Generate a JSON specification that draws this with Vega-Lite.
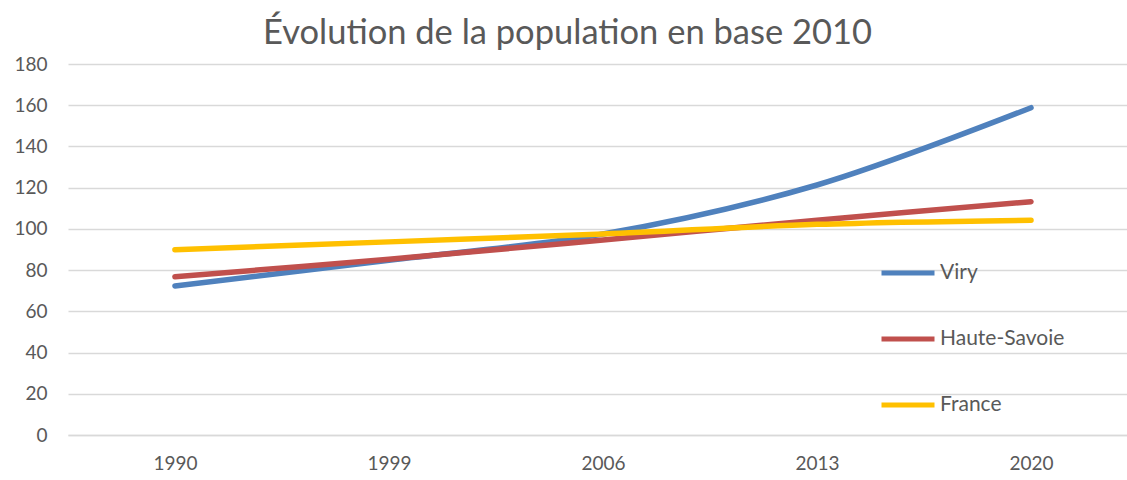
{
  "$schema": "https://vega.github.io/schema/vega-lite/v6.json",
  "autosize": {"type": "none"},
  "padding": {"left": 68, "top": 64, "right": 0, "bottom": 45},
  "width": 1059,
  "height": 371,
  "background": "white",
  "config": {
    "font": "Lato",
    "view": {"stroke": null}
  },
  "title": {
    "text": "Évolution de la population en base 2010",
    "fontSize": 34.5,
    "fontWeight": "normal",
    "color": "#595959",
    "anchor": "middle",
    "dx": -30,
    "offset": 4
  },
  "data": {
    "values": [
      {"annee": "1990", "serie": "Viry", "valeur": 72.3},
      {"annee": "1999", "serie": "Viry", "valeur": 84.8},
      {"annee": "2006", "serie": "Viry", "valeur": 97.5},
      {"annee": "2013", "serie": "Viry", "valeur": 121.3},
      {"annee": "2020", "serie": "Viry", "valeur": 158.8},
      {"annee": "1990", "serie": "Haute-Savoie", "valeur": 76.8},
      {"annee": "1999", "serie": "Haute-Savoie", "valeur": 85.3},
      {"annee": "2006", "serie": "Haute-Savoie", "valeur": 94.6},
      {"annee": "2013", "serie": "Haute-Savoie", "valeur": 104.2},
      {"annee": "2020", "serie": "Haute-Savoie", "valeur": 113.2},
      {"annee": "1990", "serie": "France", "valeur": 89.9},
      {"annee": "1999", "serie": "France", "valeur": 93.7},
      {"annee": "2006", "serie": "France", "valeur": 97.5},
      {"annee": "2013", "serie": "France", "valeur": 102.2},
      {"annee": "2020", "serie": "France", "valeur": 104.2}
    ]
  },
  "mark": {"type": "line", "interpolate": "catmull-rom", "strokeWidth": 5.5, "strokeCap": "round"},
  "encoding": {
    "x": {
      "field": "annee",
      "type": "ordinal",
      "title": null,
      "scale": {"type": "point", "padding": 0.474, "align": 0.527},
      "axis": {
        "labelAngle": 0,
        "labelFontSize": 19,
        "labelColor": "#595959",
        "labelPadding": 19,
        "ticks": false,
        "domainColor": "#D9D9D9",
        "domainWidth": 1.5,
        "grid": false
      }
    },
    "y": {
      "field": "valeur",
      "type": "quantitative",
      "title": null,
      "scale": {"domain": [0, 180], "nice": false},
      "axis": {
        "values": [0, 20, 40, 60, 80, 100, 120, 140, 160, 180],
        "labelFontSize": 19,
        "labelColor": "#595959",
        "labelPadding": 21,
        "ticks": false,
        "domain": false,
        "gridColor": "#D9D9D9",
        "gridWidth": 1.5
      }
    },
    "color": {
      "field": "serie",
      "type": "nominal",
      "sort": ["Viry", "Haute-Savoie", "France"],
      "scale": {"domain": ["Viry", "Haute-Savoie", "France"], "range": ["#4F81BD", "#C0504D", "#FFC000"]},
      "legend": {
        "title": null,
        "orient": "none",
        "legendX": 811,
        "legendY": 180,
        "direction": "vertical",
        "symbolType": "stroke",
        "symbolSize": 2809,
        "symbolStrokeWidth": 5,
        "labelFontSize": 21,
        "labelColor": "#595959",
        "labelOffset": 3,
        "rowPadding": 27
      }
    }
  }
}
